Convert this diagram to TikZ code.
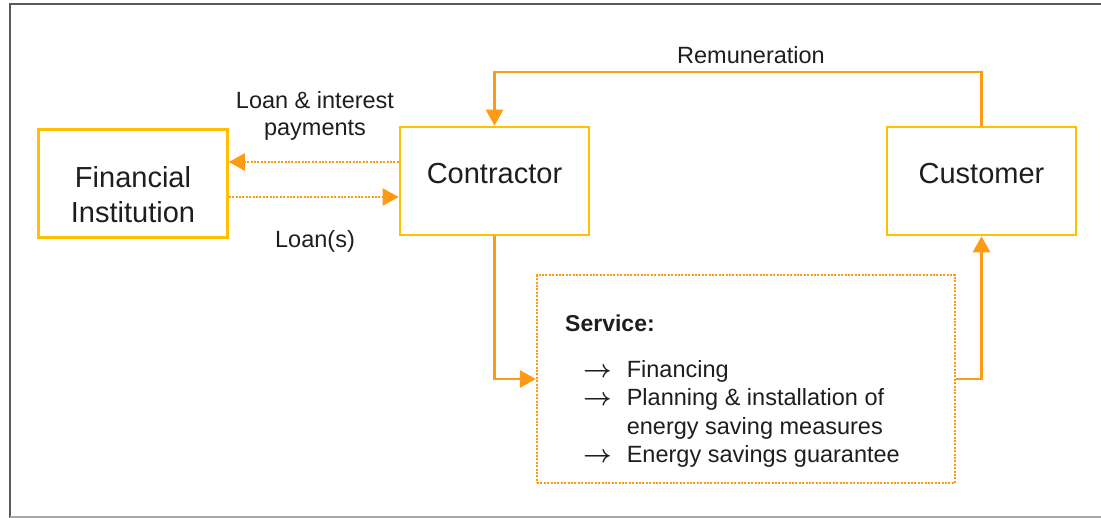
\documentclass[tikz,border=0pt]{standalone}
\usepackage{fontspec}
\setmainfont{Liberation Sans}
\usetikzlibrary{arrows.meta}
\definecolor{boxyellow}{HTML}{FFC000}
\definecolor{arrorange}{HTML}{FF9A14}
\definecolor{txt}{HTML}{1E1E1E}
\definecolor{framegray}{HTML}{5A5A5A}
\definecolor{framelight}{HTML}{A8A8A8}
\newcommand{\barrow}{{\mathversion{bold}$\rightarrow$}}
\tikzset{
  ent/.style={draw=boxyellow, line width=2.6pt, minimum width=189pt, minimum height=108pt, inner sep=0pt},
  svcbox/.style={draw=arrorange, line width=2.2pt, dash pattern=on 2pt off 1.4pt, minimum width=418pt, minimum height=208pt, inner sep=0pt},
  bigtxt/.style={text=txt, font=\fontsize{29}{35}\selectfont, align=center, inner sep=0pt},
  lbltxt/.style={text=txt, font=\fontsize{23.5}{27}\selectfont, align=center, inner sep=0pt},
  flow/.style={draw=arrorange, line width=2.6pt, -{Triangle[length=16pt,width=17pt]}},
  dotflow/.style={draw=arrorange, line width=2.2pt, dash pattern=on 2pt off 1.4pt, -{Triangle[length=16pt,width=17pt]}},
}
\begin{document}
\begin{tikzpicture}[x=1pt,y=-1pt]
\useasboundingbox (0,0) rectangle (1101,518);
\draw[framegray, line width=2.6pt] (1101,4) -- (10,4) -- (10,518);
\draw[framelight, line width=2pt] (10,516.5) -- (1101,516.5);

% boxes
\node[ent] (fi) at (133,183.5) {};
\node[ent] (contr) at (494.5,181) {};
\node[ent] (cust) at (981.5,181) {};
\node[svcbox] (svc) at (746,379) {};

% box texts
\node[bigtxt] (fitxt) at (133,194.5) {Financial\\Institution};
\node[bigtxt] (contrtxt) at (494.5,174) {Contractor};
\node[bigtxt] (custtxt) at (981.5,174) {Customer};

% service content
\node[anchor=west, text=txt, font=\fontsize{23}{27}\selectfont\bfseries, inner sep=0pt] (svctitle) at (565,323) {Service:};
\node[anchor=north west, text=txt, font=\fontsize{23.5}{28.5}\selectfont, inner sep=0pt] (svclist) at (583,357)
  {\begin{tabular}{@{}l@{\hspace{15pt}}l@{}}
   \barrow & Financing\\
   \barrow & Planning \& installation of\\
           & energy saving measures\\
   \barrow & Energy savings guarantee
   \end{tabular}};

% helper coordinates
\coordinate (ytop) at (0,72);
\coordinate (ypay) at (0,162);
\coordinate (yloan) at (0,197);

% connectors
\draw[flow] (cust.north) -- (cust.north |- ytop) -| (contr.north);
\draw[dotflow] (contr.west |- ypay) -- (fi.east |- ypay);
\draw[dotflow] (fi.east |- yloan) -- (contr.west |- yloan);
\draw[flow] (contr.south) |- (svc.west);
\draw[flow] (svc.east) -| (cust.south);

% labels
\node[lbltxt] (remun) at (751,55) {Remuneration};
\node[lbltxt] (paylbl) at (315,116) {Loan \& interest\\payments};
\node[lbltxt] (loanlbl) at (315,241) {Loan(s)};
\end{tikzpicture}
\end{document}
